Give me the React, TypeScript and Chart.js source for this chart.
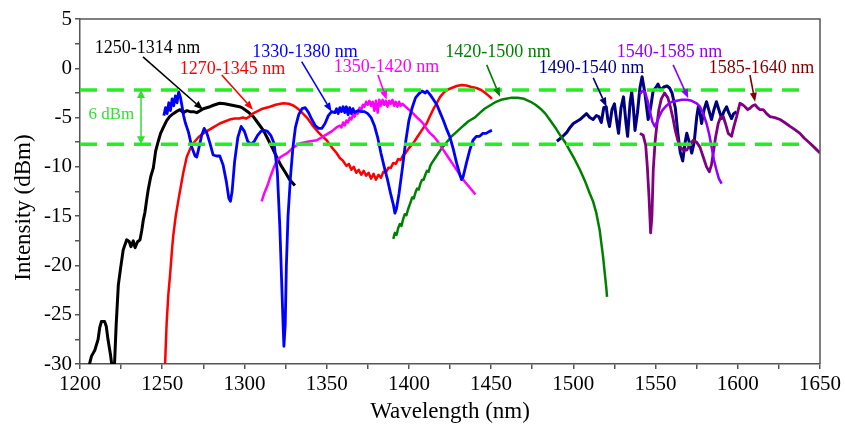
import React, { useEffect, useRef } from 'react';
import { Chart, registerables } from 'chart.js';
Chart.register(...registerables);

// ---- data: [wavelength (nm), intensity (dBm)] ----
const band1250_1314: [number, number][] = [
  [1205, -30.5], [1207, -29.2], [1209, -28.6], [1211, -27.5], [1212, -26.3], [1213, -25.7], [1215, -25.7], [1216, -26.2],
  [1217, -27.5], [1218.5, -29], [1220, -31], [1221, -30], [1222, -26], [1223.3, -22], [1224.5, -20.5], [1226.3, -18.4],
  [1228.4, -17.4], [1230, -17.6], [1231, -18.1], [1232.4, -17.5], [1233.5, -18.2], [1235, -17.6], [1236.5, -17.4],
  [1237.5, -16.5], [1238.5, -15.4], [1239.5, -14.6], [1240.5, -13.4], [1241.5, -12.3], [1243, -11], [1244.6, -10.1],
  [1246, -8.4], [1247.6, -7.4], [1249, -6.6], [1250.7, -6.0], [1252.7, -5.3], [1254.5, -4.9], [1256.7, -4.6],
  [1258.5, -4.4], [1260.8, -4.2], [1262.8, -4.5], [1265, -4.3], [1267, -4.4], [1269, -4.4], [1271, -4.5], [1273, -4.3],
  [1275, -4.1], [1277, -4.0], [1279, -3.9], [1282, -3.7], [1285, -3.55], [1288, -3.6], [1291, -3.7], [1294, -3.8],
  [1297, -3.9], [1299, -4.05], [1302, -4.4], [1305.4, -4.9], [1308, -5.5], [1311.5, -6.3], [1314, -7.1], [1317, -8.1],
  [1319.6, -9.0], [1322, -9.8], [1325, -10.6], [1327.5, -11.3], [1330.7, -11.9]
];

const band1270_1345: [number, number][] = [
  [1251.5, -31], [1252.7, -25.8], [1253.7, -23], [1254.7, -21.1], [1256, -18.3], [1256.7, -17], [1258.2, -15],
  [1259.8, -13.4], [1261.3, -12], [1262.8, -10.6], [1264.9, -9.0], [1266.9, -8.2], [1268.9, -7.6], [1272, -7.0],
  [1275, -6.6], [1278, -6.3], [1281, -6.0], [1285, -5.6], [1288, -5.4], [1291, -5.2], [1294, -5.1], [1297, -5.1],
  [1299, -5.0], [1301, -5.1], [1303, -4.9], [1305, -4.6], [1307.4, -4.4], [1311, -4.1], [1315.5, -3.9], [1319, -3.7],
  [1323.6, -3.55], [1327, -3.6], [1330, -3.8], [1332.5, -4.1], [1335, -4.5], [1338, -5.0], [1341.9, -5.9], [1345, -6.5],
  [1348, -7.0], [1350, -7.3], [1353, -8.0], [1356, -8.6], [1358, -9.1], [1360, -9.4], [1362, -9.9], [1363.5, -9.7],
  [1365, -10.3], [1366.5, -10.0], [1368, -10.6], [1369.5, -10.3], [1371, -10.8], [1372.5, -10.4], [1374, -10.9],
  [1375.5, -10.6], [1377, -11.2], [1378.5, -10.7], [1380, -11.3], [1381.5, -10.8], [1383, -11.1], [1384.5, -10.5],
  [1386, -10.6], [1387.5, -10.1], [1389, -10.1], [1390.5, -9.6], [1392, -9.7], [1393.5, -9.2], [1395, -9.3],
  [1396.5, -8.8], [1398, -8.6], [1400, -8.1], [1402.7, -7.6], [1405, -7.0], [1407, -6.5], [1409, -6.0], [1410.8, -5.6],
  [1413, -4.8], [1415, -4.1], [1416.9, -3.55], [1419, -2.9], [1421, -2.5], [1423, -2.2], [1426, -2.0], [1429, -1.8],
  [1432, -1.7], [1435, -1.75], [1438, -1.9], [1441, -2.0], [1444, -2.2], [1446.5, -2.5], [1449.3, -2.9], [1450.5, -3.1]
];

const band1330_1380: [number, number][] = [
  [1251, -4.8], [1252, -4.0], [1253, -4.6], [1254, -3.5], [1255, -4.3], [1256, -3.1], [1257, -3.8], [1258, -2.8],
  [1259, -3.5], [1260, -2.4], [1261, -2.9], [1262, -3.8], [1263, -4.8], [1264, -5.5], [1266, -6.5], [1268, -8.0],
  [1270, -8.9], [1271, -9.0], [1272, -8.3], [1274, -6.8], [1275.5, -6.1], [1277, -6.5], [1279, -7.6], [1281, -8.8],
  [1283, -8.9], [1285, -8.9], [1287, -9.8], [1289, -11.5], [1290.5, -13.2], [1291.5, -13.5], [1292.5, -12.5],
  [1294, -9.5], [1296, -7.0], [1298, -5.9], [1300, -6.4], [1302, -7.4], [1304, -7.7], [1306, -7.4], [1308, -6.8],
  [1310, -6.4], [1312, -6.3], [1314, -6.4], [1316, -6.8], [1318, -7.6], [1320, -10.5], [1321.5, -16], [1322.5, -21],
  [1323.5, -26], [1324, -28.2], [1324.8, -26], [1325.5, -20], [1326.5, -15], [1328, -11], [1329.5, -8.0], [1331, -6.0],
  [1333, -4.7], [1335, -4.1], [1337, -4.0], [1339, -4.5], [1341, -5.2], [1343, -5.8], [1345, -6.1], [1347, -6.1],
  [1349, -5.6], [1351, -4.8], [1353, -4.4], [1355, -4.5], [1356, -4.1], [1357, -4.6], [1358, -4.0], [1359, -4.4],
  [1360, -3.9], [1361, -4.5], [1362, -3.9], [1363, -4.7], [1364, -4.0], [1365, -4.6], [1366, -4.1], [1367, -4.5],
  [1369, -4.3], [1371, -4.4], [1373, -4.4], [1375, -4.6], [1377, -5.0], [1379, -5.8], [1381, -7.0], [1383, -8.6],
  [1385, -10.0], [1387, -11.3], [1389, -12.8], [1390.5, -13.8], [1391.5, -14.7], [1392.5, -14.2], [1394, -12.7],
  [1396, -10.2], [1398, -7.5], [1400, -5.3], [1402, -4.0], [1404, -3.0], [1406, -2.6], [1408, -2.3], [1410, -2.5],
  [1411, -2.3], [1413, -2.7], [1415, -3.2], [1417, -3.7], [1419, -4.5], [1421, -5.3], [1423, -6.2], [1425, -7.0],
  [1427, -8.2], [1429, -9.6], [1431, -10.8], [1432, -11.3], [1433, -11.0], [1435, -9.6], [1437, -8.3], [1439, -7.3],
  [1441, -6.9], [1443, -6.9], [1445, -6.6], [1447, -6.6], [1449, -6.4], [1450.5, -6.3]
];

const band1350_1420: [number, number][] = [
  [1310.5, -13.5], [1312, -12.7], [1314, -11.9], [1316, -10.9], [1318, -10.0], [1320, -9.3], [1322, -9.0],
  [1324, -8.8], [1326, -8.6], [1328, -8.3], [1330, -8.0], [1332, -7.8], [1334, -7.6], [1337, -7.5], [1340, -7.4],
  [1344, -7.3], [1347, -7.0], [1350, -6.7], [1353, -6.4], [1356, -6.0], [1358, -5.8], [1359, -6.0], [1360, -5.5],
  [1361, -5.8], [1362, -5.3], [1363, -5.5], [1364, -5.0], [1365, -5.2], [1366, -4.7], [1367, -4.9], [1368, -4.4],
  [1369, -4.6], [1370, -4.0], [1371, -4.3], [1372, -3.7], [1373, -3.9], [1374, -3.4], [1375, -3.7], [1376, -3.3],
  [1377, -3.8], [1378, -3.4], [1379, -4.3], [1380, -3.3], [1381, -4.5], [1382, -3.2], [1383, -3.8], [1384, -3.2],
  [1385, -3.7], [1386, -3.3], [1387, -3.9], [1388, -3.3], [1389, -3.6], [1390, -3.2], [1391, -3.8], [1392, -3.4],
  [1393, -3.9], [1394, -3.4], [1395, -3.8], [1396, -3.6], [1398, -3.9], [1400, -4.2], [1402.7, -4.6], [1405, -5.0],
  [1407, -5.3], [1408.7, -5.6], [1411, -6.2], [1413, -6.6], [1415, -6.9], [1417, -7.3], [1419, -7.8], [1421, -8.3],
  [1423, -8.8], [1425, -9.3], [1427, -9.8], [1429, -10.3], [1431, -10.8], [1433, -11.3], [1435, -11.7], [1437, -12.1],
  [1439, -12.5], [1440.5, -12.8]
];

const band1420_1500: [number, number][] = [
  [1390.5, -17.3], [1391.5, -16.7], [1392.5, -16.9], [1393.5, -16.2], [1394.5, -15.8], [1395.5, -16.0], [1396.5, -15.3],
  [1397.5, -14.8], [1398.5, -14.9], [1399.5, -14.3], [1401, -13.6], [1402, -13.1], [1403, -13.2], [1404, -12.6],
  [1405, -12.2], [1406, -12.3], [1407, -11.7], [1408, -11.3], [1409, -11.3], [1410, -10.8], [1411, -10.4],
  [1412, -10.5], [1413, -9.9], [1414, -9.6], [1416, -9.1], [1418, -8.6], [1420, -8.1], [1422, -7.7], [1424, -7.3],
  [1426, -6.9], [1428, -6.6], [1430, -6.3], [1432, -6.0], [1434, -5.7], [1436, -5.4], [1438, -5.2], [1440, -5.0],
  [1442, -4.7], [1444, -4.4], [1446, -4.1], [1448, -3.9], [1450, -3.7], [1453, -3.4], [1456, -3.2], [1459, -3.1],
  [1462, -3.0], [1466, -3.0], [1470, -3.1], [1474, -3.4], [1477, -3.7], [1480, -4.1], [1483, -4.6], [1486, -5.3],
  [1489, -6.0], [1492, -6.8], [1495, -7.5], [1498, -8.4], [1501, -9.3], [1504, -10.3], [1507, -11.4], [1510, -12.7],
  [1512, -13.5], [1514, -14.7], [1516, -16.4], [1518, -19.0], [1520, -22.2], [1520.5, -23.2]
];

const band1490_1540: [number, number][] = [
  [1490, -7.4], [1493, -7.0], [1496, -6.5], [1498, -6.0], [1500, -5.6], [1502, -5.4], [1504, -5.2], [1506, -4.9],
  [1508, -4.6], [1510, -5.0], [1512, -5.2], [1514, -4.8], [1515.5, -4.9], [1517, -5.5], [1518.5, -4.0], [1520, -3.9],
  [1521, -5.2], [1522, -5.9], [1523.5, -4.2], [1525, -3.6], [1526.5, -5.5], [1527.5, -6.6], [1529, -4.0], [1530.5, -2.9],
  [1532, -5.5], [1533, -6.9], [1534.5, -3.5], [1535.5, -2.4], [1536.5, -4.0], [1537.5, -6.3], [1539, -4.5],
  [1540.5, -2.0], [1541.8, -0.85], [1543.5, -2.5], [1545.5, -5.2], [1547, -4.0], [1548.5, -2.3], [1550, -2.0],
  [1551.5, -1.6], [1553, -2.2], [1555, -1.9], [1557, -1.8], [1558.5, -2.0], [1560, -2.5], [1562, -4.0], [1563.5, -6.5],
  [1565, -8.5], [1566.5, -9.4], [1568, -7.5], [1569, -6.6], [1570.5, -7.5], [1572, -8.6], [1573.5, -7.5], [1575, -5.0],
  [1576, -3.9], [1577, -4.5], [1578, -5.6], [1579.5, -4.2], [1581, -3.4], [1582.5, -4.3], [1584, -5.2], [1585.5, -4.2],
  [1587, -3.4], [1588.5, -4.2], [1590.2, -5.1], [1591.5, -4.4], [1593.2, -3.9], [1594.5, -4.5], [1596.2, -5.1],
  [1597.5, -4.6], [1599.3, -4.4]
];

const band1540_1585: [number, number][] = [
  [1540.5, -2.6], [1542, -2.3], [1543.5, -2.4], [1545, -3.2], [1546.5, -4.3], [1548, -5.4], [1549.5, -5.9],
  [1551, -5.4], [1552.5, -4.8], [1554, -4.3], [1556, -3.9], [1558, -3.6], [1560, -3.4], [1563, -3.3], [1566, -3.2],
  [1569, -3.2], [1572, -3.3], [1575, -3.55], [1577, -3.9], [1579, -4.6], [1581, -5.6], [1582.5, -6.6], [1584, -7.9],
  [1585.5, -9.3], [1587, -10.3], [1588.5, -11.2], [1590.2, -11.7]
];

const band1585_1640: [number, number][] = [
  [1540.5, -6.6], [1542.5, -6.8], [1544, -7.8], [1545, -10], [1546, -13], [1547, -16.7], [1547.8, -15], [1548.6, -10.3],
  [1549.7, -7.5], [1550.7, -5.9], [1552, -4.2], [1553.5, -3.1], [1555.5, -2.5], [1557.5, -3.0], [1559, -3.9],
  [1560.5, -5.0], [1562, -6.3], [1563.5, -7.3], [1565, -8.0], [1567, -8.3], [1569, -8.3], [1571, -7.7], [1573, -7.3],
  [1575, -7.5], [1577, -8.0], [1579, -9.0], [1581, -10.0], [1582.7, -10.5], [1584, -9.8], [1585.1, -8.6], [1586.5, -7.0],
  [1588.1, -5.6], [1589.5, -5.0], [1591.2, -4.9], [1592.5, -5.6], [1594.2, -6.6], [1596.2, -6.9], [1597.5, -6.0],
  [1599.3, -4.9], [1601.3, -3.55], [1603, -3.7], [1604.4, -3.9], [1606, -4.2], [1607.4, -4.05], [1609, -3.8],
  [1610.5, -3.7], [1612, -4.0], [1613.5, -4.2], [1615.5, -4.2], [1617.5, -4.6], [1619.6, -4.9], [1622.5, -5.0],
  [1625.7, -5.2], [1628.5, -5.5], [1631.8, -5.9], [1634.5, -6.2], [1637.8, -6.6], [1640.5, -7.1], [1643.9, -7.6],
  [1647, -8.1], [1650, -8.6]
];

const bandLabels = ['1250-1314 nm', '1270-1345 nm', '1330-1380 nm', '1350-1420 nm', '1420-1500 nm', '1490-1540 nm', '1540-1585 nm', '1585-1640 nm'];
const flatnessLevels = [-2.2, -7.7]; // dBm, dashed reference lines
const flatnessLabel = '6 dBm';

// ---- styling / annotation layout (data units) ----
const FONT = "'Liberation Serif', 'Times New Roman', serif";
const seriesStyle = [
  { data: band1540_1585, color: '#8F00FF', width: 2.5 },
  { data: band1585_1640, color: '#800080', width: 2.8 },
  { data: band1330_1380, color: '#0000FF', width: 2.8 },
  { data: band1350_1420, color: '#FF00FF', width: 2.5 },
  { data: band1270_1345, color: '#FF0000', width: 2.5 },
  { data: band1250_1314, color: '#000000', width: 3 },
  { data: band1420_1500, color: '#008000', width: 2.5 },
  { data: band1490_1540, color: '#000080', width: 3 },
];
const labelLayout = [
  { tx: 1241, ty: 2.06, ax: 1238.3, ay: 1.15, bx: 1274.8, by: -4.2, color: '#000000' },
  { tx: 1292.7, ty: -0.07, ax: 1286.2, ay: -0.68, bx: 1305.2, by: -4.2, color: '#FF0000' },
  { tx: 1336.8, ty: 1.65, ax: 1334.8, ay: 0.67, bx: 1353, by: -4.4, color: '#0000FF' },
  { tx: 1386.4, ty: 0.13, ax: 1381.2, ay: -0.68, bx: 1386.5, by: -3.2, color: '#FF00FF' },
  { tx: 1454.2, ty: 1.65, ax: 1447.3, ay: 0.34, bx: 1455.4, by: -2.88, color: '#008000' },
  { tx: 1511, ty: 0.03, ax: 1512.1, ay: -0.98, bx: 1520.2, by: -3.9, color: '#000080' },
  { tx: 1558.5, ty: 1.65, ax: 1560.7, ay: 0.34, bx: 1569.9, by: -3.04, color: '#8F00FF' },
  { tx: 1614.4, ty: 0.03, ax: 1607.4, ay: -0.68, bx: 1610.5, by: -3.39, color: '#800000' },
];

function drawArrowHead(ctx: CanvasRenderingContext2D, x1: number, y1: number, x2: number, y2: number, head: number, half: number) {
  const a = Math.atan2(y2 - y1, x2 - x1);
  const bx = x2 - head * Math.cos(a), by = y2 - head * Math.sin(a);
  ctx.beginPath();
  ctx.moveTo(x2, y2);
  ctx.lineTo(bx + half * Math.sin(a), by - half * Math.cos(a));
  ctx.lineTo(bx - half * Math.sin(a), by + half * Math.cos(a));
  ctx.closePath();
  ctx.fill();
  return [bx, by];
}

const annotationPlugin = {
  id: 'annotations',
  afterDatasetsDraw(chart: any) {
    const { ctx, chartArea, scales } = chart;
    const xs = scales.x, ys = scales.y;
    ctx.save();
    // dashed reference lines
    ctx.strokeStyle = '#22EE22';
    ctx.lineWidth = 3.5;
    ctx.setLineDash([17, 10]);
    for (const lv of flatnessLevels) {
      const py = ys.getPixelForValue(lv);
      ctx.beginPath();
      ctx.moveTo(xs.getPixelForValue(1200), py);
      ctx.lineTo(xs.getPixelForValue(1641), py);
      ctx.stroke();
    }
    ctx.setLineDash([]);
    // double arrow + 6 dBm
    const dx = xs.getPixelForValue(1237.1);
    const yTop = ys.getPixelForValue(flatnessLevels[0]);
    const yBot = ys.getPixelForValue(flatnessLevels[1]);
    ctx.strokeStyle = '#33DD33';
    ctx.fillStyle = '#33DD33';
    ctx.lineWidth = 1.5;
    ctx.beginPath();
    ctx.moveTo(dx, yTop + 7);
    ctx.lineTo(dx, yBot - 7);
    ctx.stroke();
    drawArrowHead(ctx, dx, yBot, dx, yTop, 8, 4);
    drawArrowHead(ctx, dx, yTop, dx, yBot, 8, 4);
    ctx.font = `17px ${FONT}`;
    ctx.textAlign = 'center';
    ctx.textBaseline = 'middle';
    ctx.fillText(flatnessLabel, xs.getPixelForValue(1219.1), ys.getPixelForValue(-4.73));
    // band labels with arrows
    ctx.font = `18px ${FONT}`;
    labelLayout.forEach((l, i) => {
      ctx.fillStyle = l.color;
      ctx.strokeStyle = l.color;
      ctx.fillText(bandLabels[i], xs.getPixelForValue(l.tx), ys.getPixelForValue(l.ty));
      const x1 = xs.getPixelForValue(l.ax), y1 = ys.getPixelForValue(l.ay);
      const x2 = xs.getPixelForValue(l.bx), y2 = ys.getPixelForValue(l.by);
      const [bx, by] = drawArrowHead(ctx, x1, y1, x2, y2, 9, 3.5);
      ctx.lineWidth = 1.6;
      ctx.beginPath();
      ctx.moveTo(x1, y1);
      ctx.lineTo(bx, by);
      ctx.stroke();
    });
    // frame top and right
    ctx.strokeStyle = '#555555';
    ctx.lineWidth = 1.5;
    ctx.beginPath();
    ctx.moveTo(chartArea.left, chartArea.top);
    ctx.lineTo(chartArea.right, chartArea.top);
    ctx.lineTo(chartArea.right, chartArea.bottom);
    ctx.stroke();
    // axis titles
    ctx.fillStyle = '#000000';
    ctx.font = `23px ${FONT}`;
    ctx.textAlign = 'center';
    ctx.textBaseline = 'middle';
    ctx.fillText('Wavelength (nm)', (chartArea.left + chartArea.right) / 2, 412);
    ctx.save();
    ctx.translate(24, (chartArea.top + chartArea.bottom) / 2 + 16);
    ctx.rotate(-Math.PI / 2);
    ctx.fillText('Intensity (dBm)', 0, 0);
    ctx.restore();
    ctx.restore();
  },
};

export default function App() {
  const ref = useRef<HTMLCanvasElement>(null);
  useEffect(() => {
    const chart = new Chart(ref.current!, {
      type: 'line',
      data: {
        datasets: seriesStyle.map((s, i) => ({
          label: bandLabels[i],
          data: s.data.map(([x, y]) => ({ x, y })),
          borderColor: s.color,
          backgroundColor: s.color,
          borderWidth: s.width,
          pointRadius: 0,
          tension: 0,
          fill: false,
          borderJoinStyle: 'round' as const,
        })),
      },
      options: {
        responsive: false,
        animation: false,
        devicePixelRatio: 1,
        layout: { padding: { top: 19, right: 25, left: 0, bottom: 0 } },
        plugins: { legend: { display: false }, tooltip: { enabled: false } },
        scales: {
          x: {
            type: 'linear',
            min: 1200,
            max: 1650,
            afterFit: (s: any) => { s.height = 66; },
            border: { display: true, color: '#555555', width: 1.5 },
            grid: { display: true, drawOnChartArea: false, drawTicks: true, tickLength: 5, color: '#555555', lineWidth: 1.5 },
            ticks: {
              stepSize: 25,
              autoSkip: false,
              maxRotation: 0,
              padding: 3,
              color: '#000000',
              font: { family: FONT, size: 21 },
              callback: (v: any) => (Number(v) % 50 === 0 ? String(v) : ''),
            },
          },
          y: {
            type: 'linear',
            min: -30,
            max: 5,
            afterFit: (s: any) => { s.width = 80; },
            border: { display: true, color: '#555555', width: 1.5 },
            grid: { display: true, drawOnChartArea: false, drawTicks: true, tickLength: 5, color: '#555555', lineWidth: 1.5 },
            ticks: {
              stepSize: 2.5,
              autoSkip: false,
              padding: 3,
              color: '#000000',
              font: { family: FONT, size: 21 },
              callback: (v: any) => (Number(v) % 5 === 0 ? String(v) : ''),
            },
          },
        },
      },
      plugins: [annotationPlugin],
    });
    return () => chart.destroy();
  }, []);
  return (
    <div style={{ position: 'absolute', left: 0, top: 0, width: 845, height: 430, background: '#ffffff' }}>
      <canvas ref={ref} width={845} height={430} style={{ display: 'block' }} />
    </div>
  );
}
